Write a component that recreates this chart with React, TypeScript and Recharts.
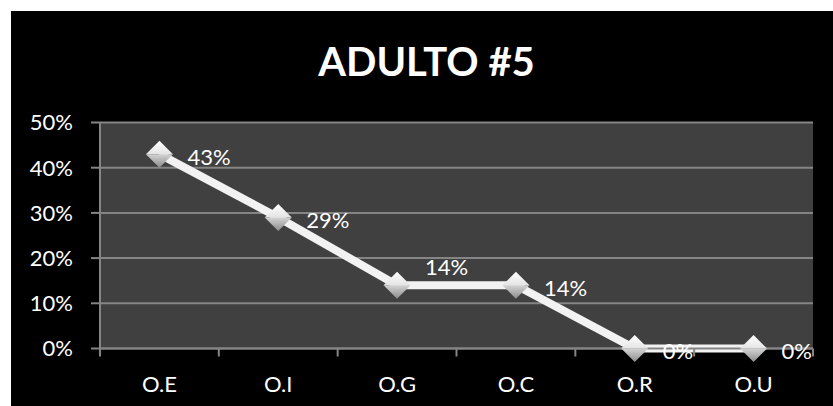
import React from 'react';
import { LineChart, Line, XAxis, YAxis, CartesianGrid, LabelList } from 'recharts';

const categories = ['O.E', 'O.I', 'O.G', 'O.C', 'O.R', 'O.U'];
const values = [0.43, 0.29, 0.14, 0.14, 0, 0];
const yTicks = [0, 0.1, 0.2, 0.3, 0.4, 0.5];
const labelTexts = ['43%', '29%', '14%', '14%', '0%', '0%'];
const title = 'ADULTO #5';

const data = categories.map((c, i) => ({ name: c, idx: i, value: values[i], label: labelTexts[i] }));
const xTicks: number[] = [];
for (let i = 0; i <= categories.length * 2; i++) xTicks.push(i / 2 - 0.5);

const FONT = 'Lato, "Open Sans", sans-serif';
const GRID = '#858585';
const FS = 22;

const XTick = (props: any) => {
  const { x, y, payload } = props;
  const v = payload.value;
  const isHalf = Math.abs(v - Math.round(v)) > 0.25;
  if (isHalf) {
    return <line x1={x} x2={x} y1={y} y2={y + 8} stroke={GRID} strokeWidth={2} />;
  }
  const name = categories[Math.round(v)];
  return (
    <text x={x} y={y + 35} textAnchor="middle" dominantBaseline="central" fill="#fff" fontSize={FS} fontFamily={FONT}>
      {name}
    </text>
  );
};

const Diamond = (props: any) => {
  const { cx, cy, index } = props;
  if (cx == null || cy == null) return null;
  const r = 13.5;
  return (
    <g key={`d-${index}`}>
      <polygon points={`${cx - r},${cy} ${cx},${cy - r} ${cx + r},${cy}`} fill="url(#dTop)" />
      <polygon points={`${cx - r},${cy} ${cx + r},${cy} ${cx},${cy + r}`} fill="url(#dBot)" />
    </g>
  );
};

const PointLabel = (props: any) => {
  const { x, y, value, index } = props;
  const dy = index === 2 ? -19 : 2;
  return (
    <text x={x + 28} y={y + dy} dominantBaseline="central" fill="#fff" fontSize={FS} fontFamily={FONT}>
      {value}
    </text>
  );
};

export default function App() {
  return (
    <div style={{ position: 'absolute', left: 0, top: 0, width: 833, height: 406, background: '#fff', overflow: 'hidden' }}>
      <div style={{ position: 'absolute', left: 11, top: 11, width: 822, height: 395, background: '#000' }}>
        <LineChart
          width={822}
          height={395}
          data={data}
          margin={{ top: 111.5, right: 20, bottom: 0, left: 0 }}
        >
          <defs>
            <linearGradient id="dTop" x1="0" y1="0" x2="0" y2="1">
              <stop offset="0%" stopColor="#ffffff" />
              <stop offset="100%" stopColor="#e4e4e4" />
            </linearGradient>
            <linearGradient id="dBot" x1="0" y1="0" x2="0" y2="1">
              <stop offset="0%" stopColor="#d4d4d4" />
              <stop offset="100%" stopColor="#8c8c8c" />
            </linearGradient>
          </defs>
          <CartesianGrid vertical={false} fill="#404040" stroke={GRID} strokeWidth={2} />
          <XAxis
            dataKey="idx"
            type="number"
            domain={[-0.5, 5.5]}
            ticks={xTicks}
            interval={0}
            tick={<XTick />}
            tickLine={false}
            tickSize={0}
            tickMargin={0}
            axisLine={{ stroke: GRID, strokeWidth: 2 }}
            height={57.5}
            allowDecimals
          />
          <YAxis
            domain={[0, 0.5]}
            ticks={yTicks}
            width={89}
            tickFormatter={(v: number) => `${Math.round(v * 100)}%`}
            tick={{ fill: '#fff', fontSize: FS, fontFamily: FONT }}
            tickSize={9}
            tickMargin={18}
            tickLine={{ stroke: GRID, strokeWidth: 2 }}
            axisLine={{ stroke: GRID, strokeWidth: 2 }}
          />
          <Line
            type="linear"
            dataKey="value"
            stroke="#f2f2f2"
            strokeWidth={8}
            dot={<Diamond />}
            activeDot={false}
            isAnimationActive={false}
          >
            <LabelList dataKey="label" content={<PointLabel />} />
          </Line>
        </LineChart>
      </div>
      <svg width={833} height={406} style={{ position: 'absolute', left: 0, top: 0, pointerEvents: 'none' }}>
        <text x={426.5} y={76} textAnchor="middle" fill="#fff" fontSize={40} fontWeight="bold" fontFamily={FONT}>
          {title}
        </text>
      </svg>
    </div>
  );
}
